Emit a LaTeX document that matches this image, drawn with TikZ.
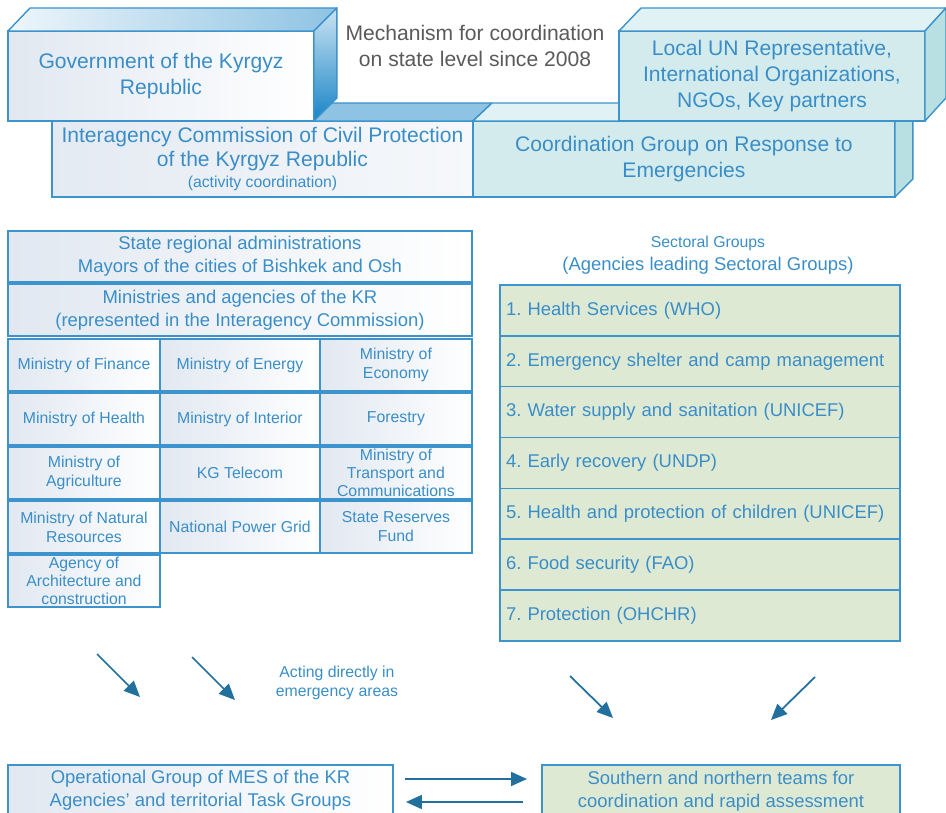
\documentclass[tikz,border=0pt]{standalone}
\usepackage{fontspec}
\setmainfont{Liberation Sans}
\usepackage{tikz}
\usetikzlibrary{arrows.meta,calc,positioning}
\frenchspacing
\definecolor{edgeblue}{HTML}{3D93CC}
\definecolor{textblue}{HTML}{3A8EC8}
\definecolor{topblue}{HTML}{8EC3E3}
\definecolor{sideblue}{HTML}{1784C6}
\definecolor{paleblue}{HTML}{E1E8F1}
\definecolor{tealfront}{HTML}{D3EBEC}
\definecolor{tealtop}{HTML}{E1F2F4}
\definecolor{tealside}{HTML}{B8DFE1}
\definecolor{sectgreen}{HTML}{DEE9D4}
\definecolor{arrowblue}{HTML}{22709D}
\definecolor{capgray}{HTML}{5A5A5A}
\newcommand{\bigtxt}{\fontsize{12}{14.7}\selectfont}
\newcommand{\midtxt}{\fontsize{10.5}{13}\selectfont}
\newcommand{\smalltxt}{\fontsize{9}{10.8}\selectfont}
\tikzset{
  front/.style={draw=edgeblue, line width=0.8pt, text=textblue, align=center, inner sep=2pt, outer sep=0pt, left color=paleblue, right color=white},
  tealbox/.style={draw=edgeblue, line width=0.8pt, fill=tealfront, text=textblue, align=center, inner sep=2pt, outer sep=0pt},
  face/.style={draw=edgeblue, line width=0.8pt, line join=round},
  cell/.style={draw=edgeblue, line width=0.8pt, left color=paleblue, right color=white, text=textblue, align=center, inner sep=1pt, outer sep=0pt, minimum height=1.04cm, font=\smalltxt},
  colA/.style={cell, minimum width=3.04cm},
  colB/.style={cell, minimum width=3.2cm},
  tight/.style={inner ysep=0pt, font=\fontsize{9}{10.3}\selectfont},
  sector/.style={draw=edgeblue, line width=0.8pt, fill=sectgreen, text=textblue, minimum width=8cm, minimum height=1.017cm, text width=7.76cm, align=left, inner xsep=0.12cm, outer sep=0pt, font=\midtxt},
  flow/.style={-{Triangle[length=3.2mm,width=2.8mm]}, draw=arrowblue, line width=1pt},
}
\begin{document}
\begin{tikzpicture}[x=0.02cm, y=-0.02cm]
    \path[use as bounding box, clip] (0,0) rectangle (946,813);

    % state level, back row first
    \node[front, minimum width=8.42cm, minimum height=1.52cm, anchor=north west, left color=paleblue!90!white, right color=paleblue!30!white, font=\bigtxt] (icp) at (52,121)
    {Interagency Commission of Civil Protection\\[-1pt]of the Kyrgyz Republic\\[-3pt] \smalltxt (activity coordination)};
    \filldraw[face, fill=topblue] (icp.north west) -- ++(19,-18) -- ($(icp.north east)+(19,-18)$) -- (icp.north east) -- cycle;

    \node[tealbox, minimum width=8.44cm, minimum height=1.52cm, anchor=north west, font=\bigtxt] (crg) at (473,121)
    {Coordination Group on Response to\\Emergencies};
    \filldraw[face, fill=tealtop] (crg.north west) -- ++(19,-18) -- ($(crg.north east)+(18,-18)$) -- (crg.north east) -- cycle;
    \filldraw[face, fill=tealside] (crg.north east) -- ++(18,-18) -- ++(0,76) -- (crg.south east) -- cycle;

    \node[front, minimum width=6.12cm, minimum height=1.8cm, anchor=north west, font=\bigtxt] (gov) at (8,31)
    {Government of the Kyrgyz\\Republic};
    \shadedraw[face, left color=topblue!15, middle color=topblue, right color=topblue] (gov.north west) -- ++(22,-23) -- ($(gov.north east)+(23,-23)$) -- (gov.north east) -- cycle;
    \shadedraw[face, top color=topblue!45, bottom color=sideblue] (gov.north east) -- ++(23,-23) -- ++(0,90) -- (gov.south east) -- cycle;

    \node[tealbox, minimum width=6.12cm, minimum height=1.8cm, anchor=north west, font=\bigtxt] (un) at (619,31)
    {Local UN Representative,\\International Organizations,\\NGOs, Key partners};
    \filldraw[face, fill=tealtop] (un.north west) -- ++(22,-23) -- ($(un.north east)+(21,-23)$) -- (un.north east) -- cycle;
    \filldraw[face, fill=tealside] (un.north east) -- ++(21,-23) -- ++(0,90) -- (un.south east) -- cycle;

    \node[text=capgray, font=\bigtxt, align=center] (mech) at (475,46)
    {Mechanism for coordination\\on state level since 2008};

    % ministries and agencies
    \node[cell, minimum width=9.28cm, minimum height=1.02cm, anchor=north west, font=\midtxt] (sra) at (8,231)
    {State regional administrations\\Mayors of the cities of Bishkek and Osh};
    \node[cell, minimum width=9.28cm, below=0.04cm of sra, font=\midtxt] (mins)
    {Ministries and agencies of the KR\\(represented in the Interagency Commission)};

    \node[colA, anchor=north west] (fin) at (8,339) {Ministry of Finance};
    \node[colB, right=0pt of fin] (energy) {Ministry of Energy};
    \node[colA, right=0pt of energy] (econ) {Ministry of\\Economy};
    \node[colA, below=0.04cm of fin] (health) {Ministry of Health};
    \node[colB, right=0pt of health] (interior) {Ministry of Interior};
    \node[colA, right=0pt of interior] (forest) {Forestry};
    \node[colA, below=0.04cm of health] (agri) {Ministry of\\Agriculture};
    \node[colB, right=0pt of agri] (telecom) {KG Telecom};
    \node[colA, tight, right=0pt of telecom] (transp) {Ministry of\\Transport and\\Communications};
    \node[colA, below=0.04cm of agri] (natres) {Ministry of Natural\\Resources};
    \node[colB, right=0pt of natres] (grid) {National Power Grid};
    \node[colA, right=0pt of grid] (reserve) {State Reserves\\Fund};
    \node[colA, tight, below=0.04cm of natres] (arch) {Agency of\\Architecture and\\construction};

    % sectoral groups
    \node[text=textblue, align=center] (sgt) at (708,255)
    {\smalltxt Sectoral Groups\\[1pt] \midtxt (Agencies leading Sectoral Groups)};
    \node[sector, anchor=north west] (s1) at (500,285) {1. Health Services (WHO)};
    \node[sector, below=0pt of s1] (s2) {2. Emergency shelter and camp management};
    \node[sector, below=0pt of s2] (s3) {3. Water supply and sanitation (UNICEF)};
    \node[sector, below=0pt of s3] (s4) {4. Early recovery (UNDP)};
    \node[sector, below=0pt of s4] (s5) {5. Health and protection of children (UNICEF)};
    \node[sector, below=0pt of s5] (s6) {6. Food security (FAO)};
    \node[sector, below=0pt of s6] (s7) {7. Protection (OHCHR)};

    % field level
    \node[text=textblue, align=center, font=\smalltxt] (acting) at (337,683)
    {Acting directly in\\emergency areas};
    \coordinate (a1) at (97,654);  \coordinate (b1) at (140,697);
    \coordinate (a2) at (192,657); \coordinate (b2) at (235,700);
    \coordinate (a3) at (570,676); \coordinate (b3) at (613,718);
    \coordinate (a4) at (815,677); \coordinate (b4) at (771,720);
    \draw[flow] (a1) -- (b1);
    \draw[flow] (a2) -- (b2);
    \draw[flow] (a3) -- (b3);
    \draw[flow] (a4) -- (b4);

    \node[front, minimum width=7.7cm, minimum height=1.02cm, anchor=north west, font=\midtxt] (opg) at (8,765)
    {Operational Group of MES of the KR\\Agencies' and territorial Task Groups};
    \node[draw=edgeblue, line width=0.8pt, fill=sectgreen, text=textblue, align=center, minimum width=7.16cm, minimum height=1.02cm, anchor=north west, outer sep=0pt, font=\midtxt] (snt) at (542,765)
    {Southern and northern teams for\\coordination and rapid assessment};

    \draw[flow] ($(opg.north east)+(12,14)$) -- ($(snt.north west)+(-15,14)$);
    \draw[flow] ($(snt.north west)+(-19,37)$) -- ($(opg.north east)+(13,37)$);
\end{tikzpicture}
\end{document}
